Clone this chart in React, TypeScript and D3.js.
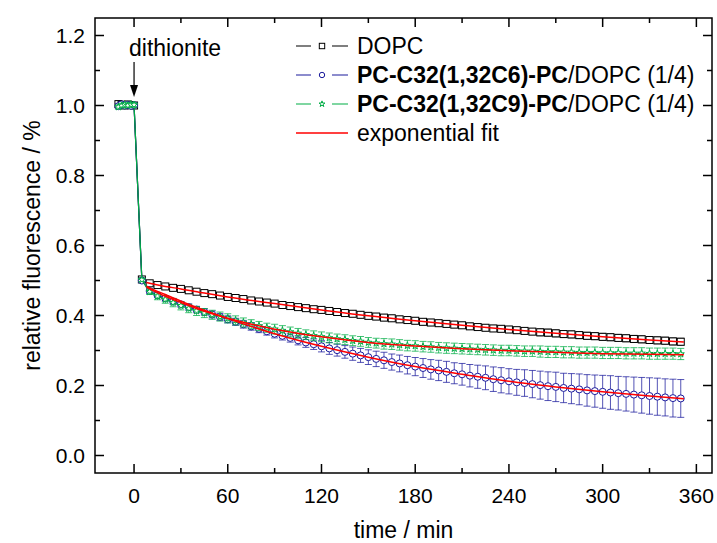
import { useEffect, useRef } from "react";
import * as d3 from "d3";

// sampling times (min), same grid for the three samples
const times = [
  -10, -8, -6, -4, -2, 0,
  5, 10, 15, 20, 25, 30, 35, 40, 45, 50, 55, 60, 65, 70, 75, 80, 85, 90, 95, 100,
  105, 110, 115, 120, 125, 130, 135, 140, 145, 150, 155, 160, 165, 170, 175, 180,
  185, 190, 195, 200, 205, 210, 215, 220, 225, 230, 235, 240, 245, 250, 255, 260,
  265, 270, 275, 280, 285, 290, 295, 300, 305, 310, 315, 320, 325, 330, 335, 340,
  345, 350,
];

const dopcValues = [
  1.004, 1.002, 1.0, 1.003, 1.001, 1.0,
  0.503, 0.492, 0.487, 0.483, 0.479, 0.476, 0.472, 0.468, 0.464, 0.461, 0.457, 0.453, 0.45, 0.447,
  0.443, 0.44, 0.437, 0.434, 0.43, 0.427, 0.424, 0.421, 0.418, 0.416, 0.413, 0.41, 0.407, 0.405,
  0.402, 0.399, 0.397, 0.394, 0.392, 0.389, 0.387, 0.385, 0.382, 0.38, 0.378, 0.376, 0.374, 0.372,
  0.369, 0.367, 0.365, 0.363, 0.362, 0.36, 0.358, 0.356, 0.354, 0.352, 0.351, 0.349, 0.347, 0.346,
  0.344, 0.342, 0.341, 0.339, 0.338, 0.336, 0.335, 0.333, 0.332, 0.33, 0.329, 0.328, 0.326, 0.325,
];
const dopcErrors = [
  0.008, 0.008, 0.008, 0.008, 0.008, 0.008,
  0.006, 0.007, 0.007, 0.008, 0.008, 0.008, 0.008, 0.008, 0.008, 0.008, 0.008, 0.008, 0.008, 0.008,
  0.008, 0.008, 0.008, 0.008, 0.008, 0.008, 0.008, 0.008, 0.008, 0.009, 0.009, 0.009, 0.009, 0.009,
  0.009, 0.009, 0.009, 0.009, 0.009, 0.009, 0.009, 0.009, 0.009, 0.009, 0.009, 0.009, 0.009, 0.009,
  0.009, 0.009, 0.009, 0.009, 0.009, 0.009, 0.009, 0.009, 0.009, 0.01, 0.01, 0.01, 0.01, 0.01,
  0.01, 0.01, 0.01, 0.01, 0.01, 0.01, 0.01, 0.01, 0.01, 0.01, 0.01, 0.01, 0.01, 0.01,
];

const c6Values = [
  0.998, 1.003, 1.0, 1.002, 0.999, 1.001,
  0.5, 0.47, 0.458, 0.449, 0.44, 0.432, 0.424, 0.417, 0.41, 0.403, 0.396, 0.389, 0.382, 0.375,
  0.369, 0.362, 0.355, 0.348, 0.342, 0.336, 0.329, 0.323, 0.318, 0.312, 0.306, 0.301, 0.296, 0.291,
  0.286, 0.281, 0.276, 0.272, 0.267, 0.263, 0.258, 0.254, 0.25, 0.246, 0.243, 0.239, 0.235, 0.232,
  0.228, 0.225, 0.222, 0.218, 0.215, 0.212, 0.209, 0.207, 0.204, 0.201, 0.198, 0.196, 0.193, 0.191,
  0.189, 0.186, 0.184, 0.182, 0.18, 0.178, 0.176, 0.174, 0.172, 0.17, 0.168, 0.166, 0.164, 0.163,
];
const c6Errors = [
  0.007, 0.007, 0.007, 0.007, 0.007, 0.007,
  0.006, 0.007, 0.007, 0.008, 0.008, 0.008, 0.009, 0.009, 0.009, 0.01, 0.01, 0.01, 0.01, 0.011,
  0.011, 0.011, 0.011, 0.012, 0.012, 0.012, 0.013, 0.014, 0.015, 0.016, 0.017, 0.017, 0.018, 0.019,
  0.02, 0.021, 0.022, 0.023, 0.023, 0.024, 0.025, 0.026, 0.027, 0.028, 0.029, 0.03, 0.03, 0.031,
  0.032, 0.033, 0.034, 0.035, 0.036, 0.036, 0.037, 0.038, 0.039, 0.04, 0.041, 0.042, 0.042, 0.043,
  0.044, 0.045, 0.046, 0.047, 0.048, 0.048, 0.049, 0.05, 0.051, 0.052, 0.053, 0.053, 0.054, 0.054,
];

const c9Values = [
  0.996, 1.0, 1.002, 1.0, 1.003, 1.002,
  0.502, 0.468, 0.455, 0.446, 0.437, 0.428, 0.42, 0.413, 0.407, 0.402, 0.397, 0.392, 0.386, 0.38,
  0.375, 0.37, 0.365, 0.361, 0.357, 0.353, 0.349, 0.345, 0.342, 0.339, 0.336, 0.333, 0.331, 0.328,
  0.326, 0.323, 0.321, 0.319, 0.318, 0.316, 0.314, 0.313, 0.311, 0.31, 0.308, 0.307, 0.306, 0.305,
  0.304, 0.303, 0.302, 0.301, 0.3, 0.3, 0.299, 0.298, 0.298, 0.297, 0.296, 0.296, 0.295, 0.295,
  0.294, 0.294, 0.294, 0.293, 0.293, 0.293, 0.292, 0.292, 0.292, 0.291, 0.291, 0.291, 0.291, 0.29,
];
const c9Errors = [
  0.006, 0.006, 0.006, 0.006, 0.006, 0.006,
  0.005, 0.008, 0.01, 0.011, 0.012, 0.012, 0.012, 0.013, 0.013, 0.013, 0.013, 0.013, 0.013, 0.013,
  0.013, 0.013, 0.013, 0.014, 0.014, 0.014, 0.014, 0.014, 0.014, 0.014, 0.014, 0.014, 0.014, 0.014,
  0.014, 0.014, 0.014, 0.015, 0.015, 0.015, 0.015, 0.015, 0.015, 0.015, 0.015, 0.015, 0.015, 0.015,
  0.015, 0.015, 0.015, 0.015, 0.015, 0.015, 0.015, 0.015, 0.015, 0.016, 0.016, 0.016, 0.016, 0.016,
  0.016, 0.016, 0.016, 0.016, 0.016, 0.016, 0.016, 0.016, 0.016, 0.016, 0.016, 0.016, 0.016, 0.016,
];

// exponential fits
const fitTimes = [8, 10, 20, 30, 45, 60, 90, 120, 150, 180, 210, 240, 270, 300, 330, 352];
const dopcFit = [0.494, 0.492, 0.483, 0.476, 0.464, 0.453, 0.434, 0.416, 0.399, 0.385, 0.372, 0.36, 0.349, 0.339, 0.33, 0.324];
const c6Fit = [0.484, 0.479, 0.46, 0.441, 0.415, 0.391, 0.348, 0.312, 0.281, 0.254, 0.232, 0.212, 0.196, 0.182, 0.17, 0.162];
const c9Fit = [0.481, 0.476, 0.455, 0.437, 0.412, 0.392, 0.361, 0.339, 0.323, 0.313, 0.305, 0.299, 0.295, 0.291, 0.289, 0.288];

const xTicks = [0, 60, 120, 180, 240, 300, 360];
const xMinorTicks = [30, 90, 150, 210, 270, 330];
const yTicks = [0, 0.2, 0.4, 0.6, 0.8, 1.0, 1.2];
const yMinorTicks = [0.1, 0.3, 0.5, 0.7, 0.9, 1.1];

const legendBold = ["", "PC-C32(1,32C6)-PC", "PC-C32(1,32C9)-PC", ""];
const legendText = ["DOPC", "/DOPC (1/4)", "/DOPC (1/4)", "exponential fit"];

const FONT = "'Liberation Sans', Arial, Helvetica, sans-serif";

const App = () => {
  const svgRef = useRef(null);

  useEffect(() => {
    const width = 717;
    const height = 543;
    const left = 95, right = 712, top = 18, bottom = 473;

    const x = d3.scaleLinear().domain([-25, 370]).range([left, right]);
    const y = d3.scaleLinear().domain([-0.05, 1.25]).range([bottom, top]);

    const svg = d3.select(svgRef.current);
    svg.selectAll("*").remove();
    svg.attr("width", width).attr("height", height);

    svg.append("rect").attr("width", width).attr("height", height).attr("fill", "#fff");

    const series = [
      { values: dopcValues, errors: dopcErrors, color: "#000000", marker: "square" },
      { values: c6Values, errors: c6Errors, color: "#1a1a9c", marker: "circle" },
      { values: c9Values, errors: c9Errors, color: "#00ad45", marker: "star" },
    ];
    const fits = [dopcFit, c6Fit, c9Fit];

    const line = d3.line<number>()
      .x((_, i) => x(times[i]))
      .y(d => y(d));

    const star = d3.symbol().type(d3.symbolStar).size(16);

    const drawMarker = (g, kind, color, px, py, s) => {
      if (kind === "square") {
        g.append("rect")
          .attr("x", px - s).attr("y", py - s)
          .attr("width", 2 * s).attr("height", 2 * s)
          .attr("fill", "#fff").attr("stroke", color).attr("stroke-width", 1);
      } else if (kind === "circle") {
        g.append("circle")
          .attr("cx", px).attr("cy", py).attr("r", s)
          .attr("fill", "#fff").attr("stroke", color).attr("stroke-width", 1);
      } else {
        g.append("path")
          .attr("d", star())
          .attr("transform", `translate(${px},${py})`)
          .attr("fill", "#fff").attr("stroke", color).attr("stroke-width", 1);
      }
    };

    const plot = svg.append("g");

    series.forEach(s => {
      const g = plot.append("g");
      // error bars
      g.selectAll("path.err")
        .data(s.values)
        .join("path")
        .attr("class", "err")
        .attr("d", (d, i) => {
          const px = x(times[i]);
          const y1 = y(d + s.errors[i]);
          const y2 = y(d - s.errors[i]);
          return `M${px},${y1}V${y2}M${px - 3.5},${y1}H${px + 3.5}M${px - 3.5},${y2}H${px + 3.5}`;
        })
        .attr("fill", "none")
        .attr("stroke", s.color)
        .attr("stroke-opacity", 0.75)
        .attr("stroke-width", 1);

      g.append("path")
        .datum(s.values)
        .attr("d", line)
        .attr("fill", "none")
        .attr("stroke", s.color)
        .attr("stroke-width", 1.2);

      s.values.forEach((d, i) => drawMarker(g, s.marker, s.color, x(times[i]), y(d), 3.5));
    });

    const fitLine = d3.line<number>()
      .x((_, i) => x(fitTimes[i]))
      .y(d => y(d))
      .curve(d3.curveMonotoneX);

    fits.forEach(f => {
      plot.append("path")
        .datum(f)
        .attr("d", fitLine)
        .attr("fill", "none")
        .attr("stroke", "#ff0000")
        .attr("stroke-width", 1.5);
    });

    // frame and ticks (all ticks point inward)
    const axes = svg.append("g").attr("stroke", "#000").attr("stroke-width", 1.5);
    axes.append("rect")
      .attr("x", left).attr("y", top)
      .attr("width", right - left).attr("height", bottom - top)
      .attr("fill", "none");

    const xTickPath = (t, len) =>
      `M${x(t)},${bottom}v${-len}M${x(t)},${top}v${len}`;
    const yTickPath = (t, len) =>
      `M${left},${y(t)}h${len}M${right},${y(t)}h${-len}`;

    axes.selectAll("path.xmaj").data(xTicks).join("path").attr("class", "xmaj").attr("d", t => xTickPath(t, 9));
    axes.selectAll("path.xmin").data(xMinorTicks).join("path").attr("class", "xmin").attr("d", t => xTickPath(t, 5));
    axes.selectAll("path.ymaj").data(yTicks).join("path").attr("class", "ymaj").attr("d", t => yTickPath(t, 9));
    axes.selectAll("path.ymin").data(yMinorTicks).join("path").attr("class", "ymin").attr("d", t => yTickPath(t, 5));

    const labels = svg.append("g").attr("font-family", FONT).attr("fill", "#000");

    labels.selectAll("text.xl").data(xTicks).join("text")
      .attr("class", "xl")
      .attr("x", t => x(t)).attr("y", 503)
      .attr("text-anchor", "middle")
      .attr("font-size", 21)
      .text(t => String(t));

    labels.selectAll("text.yl").data(yTicks).join("text")
      .attr("class", "yl")
      .attr("x", 85).attr("y", t => y(t) + 7.5)
      .attr("text-anchor", "end")
      .attr("font-size", 21)
      .text(t => d3.format(".1f")(t));

    labels.append("text")
      .attr("x", (left + right) / 2).attr("y", 538)
      .attr("text-anchor", "middle")
      .attr("font-size", 23)
      .text("time / min");

    labels.append("text")
      .attr("transform", `translate(40,${(top + bottom) / 2}) rotate(-90)`)
      .attr("text-anchor", "middle")
      .attr("font-size", 23)
      .text("relative fluorescence / %");

    // dithionite annotation
    labels.append("text")
      .attr("x", 129).attr("y", 56)
      .attr("font-size", 23)
      .text("dithionite");
    const ax = x(0);
    svg.append("line")
      .attr("x1", ax).attr("x2", ax)
      .attr("y1", 62).attr("y2", 88)
      .attr("stroke", "#000").attr("stroke-width", 1.2);
    svg.append("path")
      .attr("d", `M${ax - 4},${85}L${ax + 4},${85}L${ax},${97}Z`)
      .attr("fill", "#000");

    // legend
    const legend = svg.append("g").attr("font-family", FONT);
    const legendColors = ["#000000", "#1a1a9c", "#00ad45", "#ff0000"];
    const legendMarkers = ["square", "circle", "star", ""];
    legendText.forEach((txt, i) => {
      const cy = 46 + i * 29;
      const row = legend.append("g");
      if (i < 3) {
        row.append("path")
          .attr("d", `M296,${cy}H311M332,${cy}H348`)
          .attr("stroke", legendColors[i]).attr("stroke-width", 1.2);
        if (legendMarkers[i] === "star") {
          row.append("path")
            .attr("d", d3.symbol().type(d3.symbolStar).size(11)())
            .attr("transform", `translate(322,${cy})`)
            .attr("fill", "#fff").attr("stroke", legendColors[i]).attr("stroke-width", 1);
        } else {
          drawMarker(row, legendMarkers[i], legendColors[i], 322, cy, 2.7);
        }
      } else {
        row.append("path")
          .attr("d", `M296,${cy}H348`)
          .attr("stroke", legendColors[i]).attr("stroke-width", 1.5);
      }
      const t = row.append("text")
        .attr("x", 357).attr("y", cy + 8)
        .attr("font-size", 23)
        .attr("fill", "#000");
      if (legendBold[i]) t.append("tspan").attr("font-weight", "bold").text(legendBold[i]);
      t.append("tspan").text(txt);
    });
  }, []);

  return (
    <div style={{ position: "absolute", left: 0, top: 0 }}>
      <svg ref={svgRef} style={{ display: "block" }}></svg>
    </div>
  );
};

export default App;
